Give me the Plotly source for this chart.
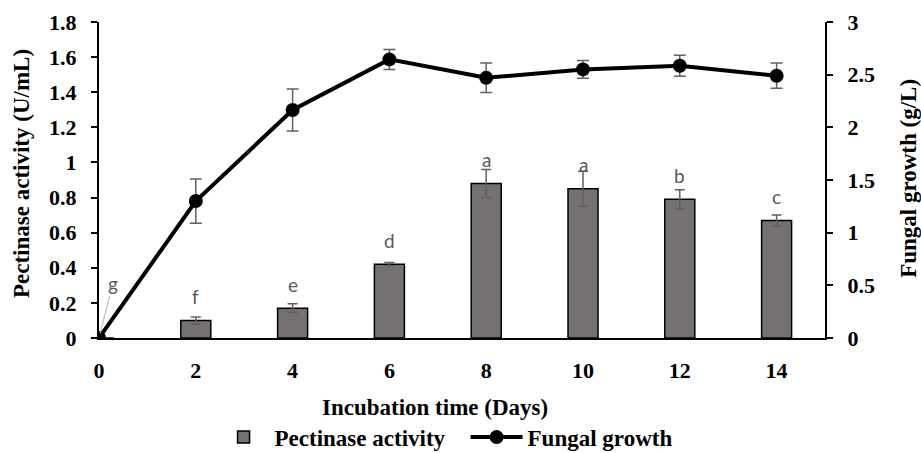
import plotly.graph_objects as go

# Incubation days
days = [0, 2, 4, 6, 8, 10, 12, 14]

# Pectinase activity (U/mL) with standard deviation
pectinase = [0.0, 0.10, 0.17, 0.42, 0.88, 0.85, 0.79, 0.67]
pectinase_sd = [0.0, 0.02, 0.025, 0.01, 0.08, 0.10, 0.055, 0.03]

# Fungal growth (g/L) with standard deviation
growth = [0.0, 1.30, 2.165, 2.645, 2.47, 2.55, 2.585, 2.49]
growth_sd = [0.0, 0.21, 0.20, 0.095, 0.14, 0.085, 0.10, 0.12]

# Significance letters for pectinase activity
letters = ["g", "f", "e", "d", "a", "a", "b", "c"]

SERIF = "Liberation Serif"
LETTER_FONT = dict(family="Lato", size=19, color="#595959")
bold = dict(family=SERIF, size=22, color="black", weight="bold")
title_font = dict(family=SERIF, size=23, color="black", weight="bold")

fig = go.Figure()

fig.add_trace(go.Bar(
    x=days, y=pectinase, width=0.62, name="Pectinase activity",
    marker=dict(color="#767171", line=dict(color="black", width=1.5)),
    error_y=dict(type="data", array=pectinase_sd, color="#606060",
                 thickness=1.5, width=5),
    yaxis="y",
))

fig.add_trace(go.Scatter(
    x=days, y=growth, name="Fungal growth", mode="lines+markers",
    line=dict(color="black", width=4),
    marker=dict(color="black", size=14),
    error_y=dict(type="data", array=growth_sd, color="#606060",
                 thickness=1.5, width=6),
    yaxis="y2",
))

# Letter labels above the bars
for d, v, t in zip(days, pectinase, letters):
    if d == 0:
        fig.add_annotation(
            x=d, y=v, xref="x", yref="y", text=t, showarrow=True,
            arrowhead=0, arrowwidth=1.2, arrowcolor="#bfbfbf",
            ax=14, ay=-55, standoff=5, font=LETTER_FONT,
        )
    else:
        fig.add_annotation(
            x=d, y=v, xref="x", yref="y", text=t, showarrow=False,
            yanchor="middle", yshift=24, font=LETTER_FONT,
        )

fig.add_annotation(text="Incubation time (Days)", xref="paper", yref="paper",
                   x=0.463, y=-0.2215, xanchor="center", yanchor="middle",
                   showarrow=False, font=title_font)
fig.add_annotation(text="Pectinase activity (U/mL)", xref="paper", yref="paper",
                   x=-0.106, y=0.519, xanchor="center", yanchor="middle",
                   textangle=-90, showarrow=False, font=title_font)
fig.add_annotation(text="Fungal growth (g/L)", xref="paper", yref="paper",
                   x=1.114, y=0.506, xanchor="center", yanchor="middle",
                   textangle=-90, showarrow=False, font=title_font)

fig.update_layout(
    width=921, height=453,
    margin=dict(l=99, r=96, t=22, b=115, autoexpand=False),
    paper_bgcolor="white", plot_bgcolor="white",
    showlegend=True,
    legend=dict(orientation="h", xref="container", yref="container",
                x=0.5055, xanchor="center", y=0.035, yanchor="middle",
                font=title_font, itemwidth=52, entrywidth=186,
                entrywidthmode="pixels", traceorder="normal"),
    xaxis=dict(range=[0, 15], tickvals=days, ticktext=[str(d) for d in days],
               showline=True, linecolor="black", linewidth=2, ticks="",
               showgrid=False, zeroline=False, tickfont=bold,
               ticklabelstandoff=12, automargin=False),
    yaxis=dict(range=[0, 1.8], dtick=0.2, showline=True, linecolor="black",
               linewidth=2, ticks="outside", ticklen=6, tickwidth=1.5,
               tickcolor="black", showgrid=False, zeroline=False,
               tickfont=bold, ticklabelstandoff=10, automargin=False),
    yaxis2=dict(range=[0, 3], dtick=0.5, overlaying="y", side="right",
                anchor="x", showline=True, linecolor="black", linewidth=2,
                ticks="outside", ticklen=6, tickwidth=1.5, tickcolor="black",
                showgrid=False, zeroline=False, tickfont=bold,
                ticklabelstandoff=10, automargin=False),
)

fig.write_html("out.html")
